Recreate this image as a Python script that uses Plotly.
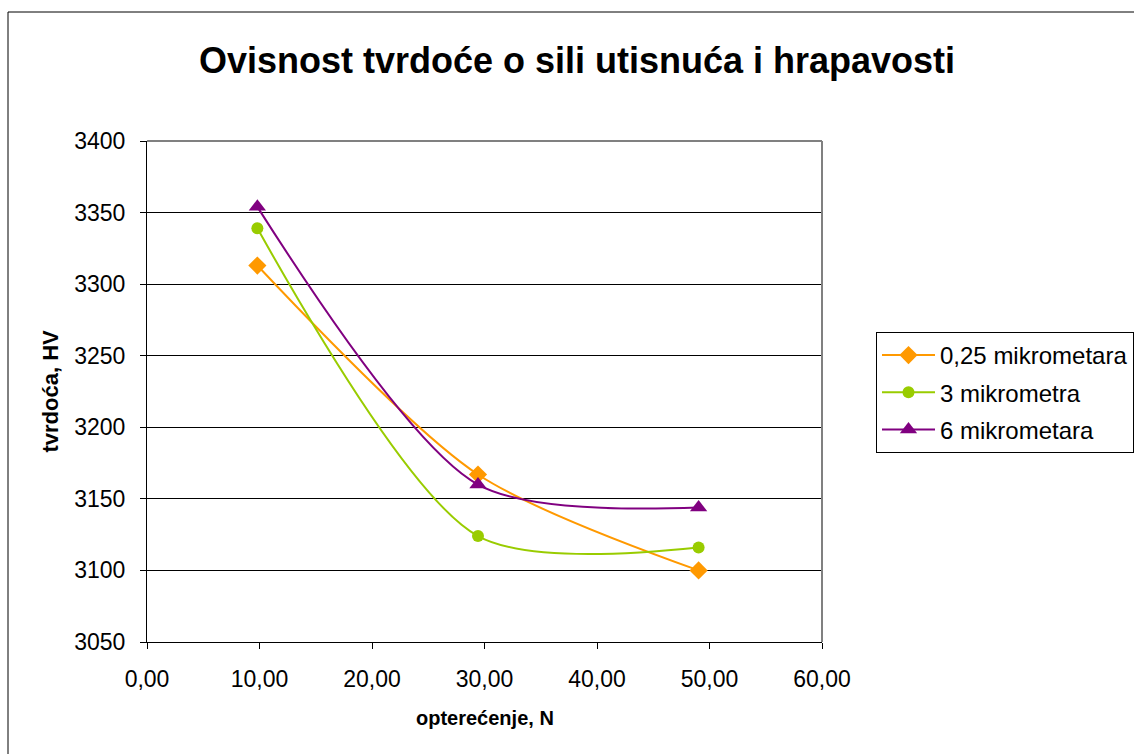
import plotly.graph_objects as go

# Load (N) at which hardness was measured
load_n = [9.81, 29.42, 49.03]

# Vickers hardness for each surface roughness
series_names = ["0,25 mikrometara", "3 mikrometra", "6 mikrometara"]
hv_025 = [3313, 3167, 3100]
hv_3 = [3339, 3124, 3116]
hv_6 = [3354, 3160, 3144]

x_tick_vals = [0, 10, 20, 30, 40, 50, 60]
x_tick_text = ["0,00", "10,00", "20,00", "30,00", "40,00", "50,00", "60,00"]
y_tick_vals = [3050, 3100, 3150, 3200, 3250, 3300, 3350, 3400]

FONT = "Arial, Liberation Sans, sans-serif"

styles = [
    dict(color="#FF9900", symbol="diamond", size=14),
    dict(color="#99CC00", symbol="circle", size=12),
    dict(color="#800080", symbol="triangle-up", size=15),
]

fig = go.Figure()
for name, vals, st in zip(series_names, [hv_025, hv_3, hv_6], styles):
    fig.add_trace(go.Scatter(
        x=load_n, y=vals, name=name, legendgroup=name,
        mode="lines+markers",
        line=dict(color=st["color"], width=2, shape="spline", smoothing=0.8),
        marker=dict(color=st["color"], symbol=st["symbol"], size=st["size"]),
    ))

W, H = 1134, 754
L, R, T, B = 147, 312, 141, 112
pw, ph = W - L - R, H - T - B

def px_x(p):
    return (p - L) / pw

def px_y(p):
    return (H - B - p) / ph

fig.update_layout(
    width=W, height=H,
    margin=dict(l=L, r=R, t=T, b=B, pad=0, autoexpand=False),
    paper_bgcolor="white", plot_bgcolor="white",
    font=dict(family=FONT, size=23, color="black"),
    title=dict(text="<b>Ovisnost tvrdoće o sili utisnuća i hrapavosti</b>",
               x=577 / W, xanchor="center", y=1 - 60 / H, yanchor="middle",
               xref="container", yref="container",
               font=dict(family=FONT, size=36, color="black")),
    showlegend=True,
    legend=dict(x=px_x(876), y=px_y(332), xanchor="left", yanchor="top",
                bordercolor="black", borderwidth=1, bgcolor="white",
                font=dict(family=FONT, size=24, color="black"),
                itemwidth=53, tracegroupgap=3),
    xaxis=dict(range=[0, 60], tickvals=x_tick_vals, ticktext=x_tick_text,
               showgrid=False, zeroline=False,
               showline=True, linecolor="black", linewidth=1,
               ticks="outside", ticklen=6, tickcolor="black",
               ticklabelstandoff=10,
               tickfont=dict(family=FONT, size=23, color="black")),
    yaxis=dict(range=[3050, 3400], tickvals=y_tick_vals,
               showgrid=True, gridcolor="black", gridwidth=1, zeroline=False,
               showline=True, linecolor="black", linewidth=1,
               ticks="outside", ticklen=6, tickcolor="black",
               ticklabelstandoff=10,
               tickfont=dict(family=FONT, size=23, color="black")),
    annotations=[
        dict(text="<b>tvrdoća, HV</b>", textangle=-90, xref="paper", yref="paper",
             x=px_x(50), y=0.5, showarrow=False, xanchor="center", yanchor="middle",
             font=dict(family=FONT, size=22, color="black")),
        dict(text="<b>opterećenje, N</b>", xref="paper", yref="paper",
             x=0.5, y=px_y(718), showarrow=False, xanchor="center", yanchor="middle",
             font=dict(family=FONT, size=20, color="black")),
    ],
    shapes=[
        # plot area frame: gray top and right edges
        dict(type="line", xref="paper", yref="paper", x0=0, x1=1, y0=1, y1=1,
             line=dict(color="#808080", width=2), layer="above"),
        dict(type="line", xref="paper", yref="paper", x0=1, x1=1, y0=0, y1=1,
             line=dict(color="#808080", width=2), layer="above"),
        # chart outer frame
        dict(type="rect", xref="paper", yref="paper",
             x0=px_x(8), x1=px_x(1140), y0=px_y(760), y1=px_y(12),
             line=dict(color="black", width=1), fillcolor="rgba(0,0,0,0)",
             layer="below"),
    ],
)

fig.write_html("out.html")
